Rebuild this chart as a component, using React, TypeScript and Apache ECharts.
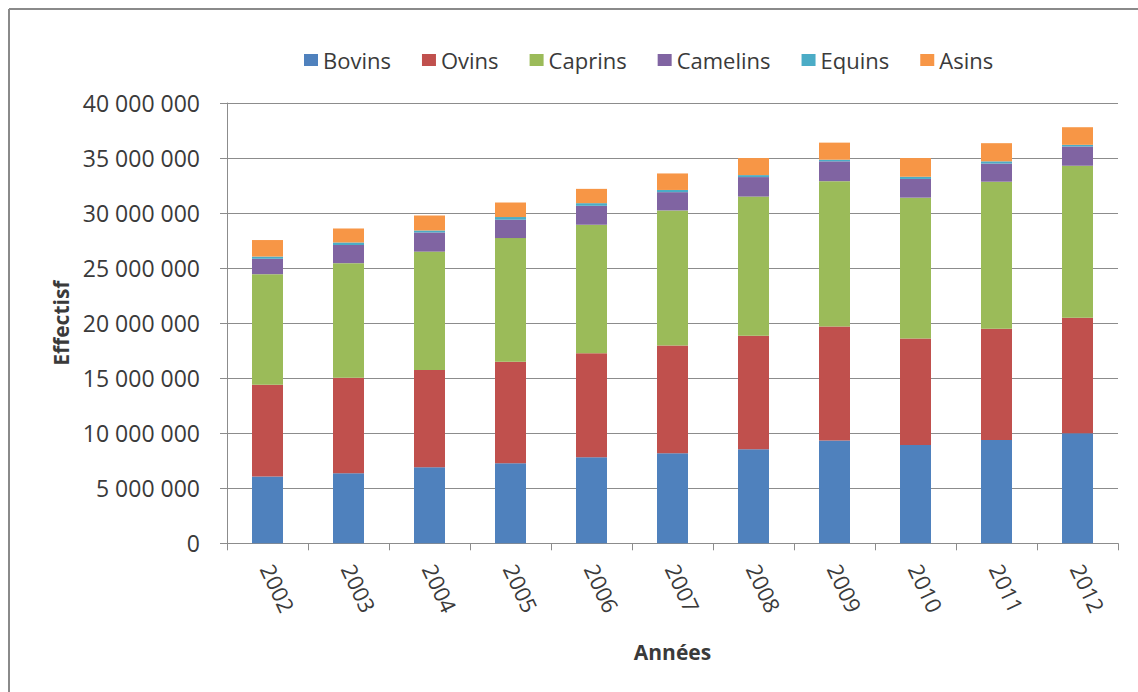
import React, { useEffect, useRef } from "react";
import * as echarts from "echarts";

const years = ["2002", "2003", "2004", "2005", "2006", "2007", "2008", "2009", "2010", "2011", "2012"];
const bovins = [6060000, 6360000, 6900000, 7270000, 7820000, 8180000, 8550000, 9330000, 8940000, 9390000, 10000000];
const ovins = [8340000, 8690000, 8850000, 9230000, 9450000, 9780000, 10300000, 10370000, 9660000, 10110000, 10500000];
const caprins = [10050000, 10400000, 10750000, 11230000, 11670000, 12280000, 12650000, 13200000, 12800000, 13350000, 13800000];
const camelins = [1400000, 1650000, 1740000, 1670000, 1720000, 1660000, 1770000, 1800000, 1700000, 1650000, 1750000];
const equins = [200000, 230000, 180000, 240000, 240000, 200000, 180000, 150000, 200000, 200000, 150000];
const asins = [1500000, 1270000, 1360000, 1320000, 1300000, 1500000, 1550000, 1550000, 1700000, 1650000, 1600000];
const yTicks = { min: 0, max: 40000000, interval: 5000000 };

const seriesDefs = [
  { name: "Bovins", data: bovins, color: "#4F81BD" },
  { name: "Ovins", data: ovins, color: "#C0504D" },
  { name: "Caprins", data: caprins, color: "#9BBB59" },
  { name: "Camelins", data: camelins, color: "#8064A2" },
  { name: "Equins", data: equins, color: "#4BACC6" },
  { name: "Asins", data: asins, color: "#F79646" },
];

const FONT = "'Open Sans', sans-serif";
const TXT = "#3a3a3a";

export default function App() {
  const ref = useRef<HTMLDivElement>(null);
  useEffect(() => {
    if (!ref.current) return;
    const chart = echarts.init(ref.current, null, { renderer: "svg" });
    chart.setOption({
      animation: false,
      backgroundColor: "#ffffff",
      textStyle: { fontFamily: FONT },
      graphic: [
        { type: "line", shape: { x1: 9, y1: 9, x2: 1138, y2: 9 }, style: { stroke: "#8a8a8a", lineWidth: 2 } },
        { type: "line", shape: { x1: 9, y1: 9, x2: 9, y2: 692 }, style: { stroke: "#8a8a8a", lineWidth: 2 } },
      ],
      legend: {
        left: 299,
        top: 44,
        icon: "rect",
        itemWidth: 14,
        itemHeight: 12,
        itemGap: 31,
        textStyle: { fontFamily: FONT, fontSize: 22, color: TXT },
        data: seriesDefs.map((s) => s.name),
      },
      grid: { left: 227, right: 20, top: 103, bottom: 148.7 },
      xAxis: {
        type: "category",
        data: years,
        name: "Années",
        nameLocation: "middle",
        nameGap: 98,
        nameTextStyle: { fontFamily: FONT, fontSize: 21, fontWeight: "bold", color: TXT },
        axisLine: { lineStyle: { color: "#8c8c8c", width: 1 } },
        axisTick: { show: true, length: 7, lineStyle: { color: "#8c8c8c" } },
        axisLabel: { rotate: -65, margin: 22, fontFamily: FONT, fontSize: 22, color: TXT },
      },
      yAxis: {
        type: "value",
        min: yTicks.min,
        max: yTicks.max,
        interval: yTicks.interval,
        name: "Effectisf",
        nameLocation: "middle",
        nameRotate: 90,
        nameGap: 156,
        nameTextStyle: { fontFamily: FONT, fontSize: 21, fontWeight: "bold", color: TXT },
        axisLine: { show: true, lineStyle: { color: "#8c8c8c", width: 1 } },
        axisTick: { show: true, length: 7, lineStyle: { color: "#8c8c8c" } },
        splitLine: { lineStyle: { color: "#8c8c8c", width: 1 } },
        axisLabel: {
          margin: 27,
          fontFamily: FONT,
          fontSize: 23,
          color: TXT,
          formatter: (v: number) => String(v).replace(/\B(?=(\d{3})+(?!\d))/g, " "),
        },
      },
      series: seriesDefs.map((s) => ({
        name: s.name,
        type: "bar",
        stack: "total",
        barWidth: 31,
        data: s.data,
        itemStyle: { color: s.color },
      })),
    });
    return () => chart.dispose();
  }, []);
  return (
    <div
      ref={ref}
      style={{ position: "fixed", left: 0, top: 0, width: 1138, height: 692, background: "#fff" }}
    />
  );
}
